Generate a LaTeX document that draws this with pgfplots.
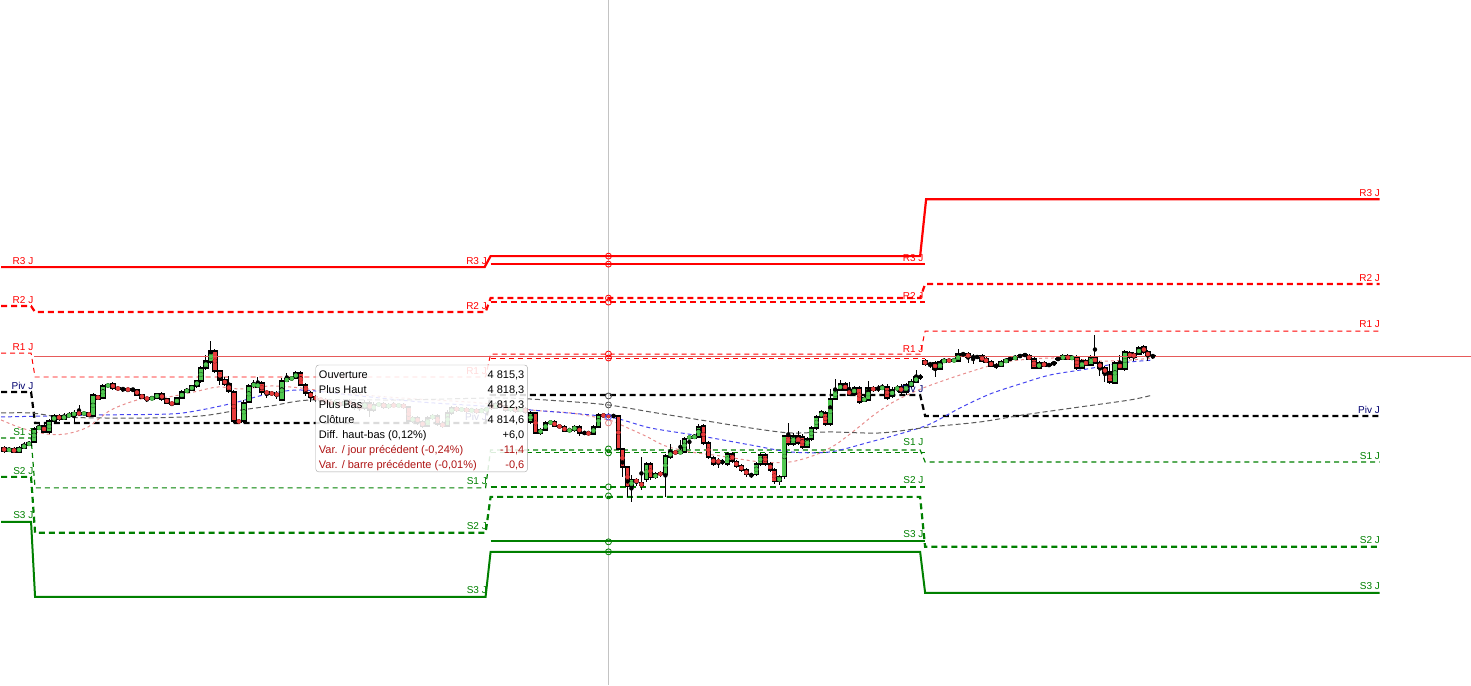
\documentclass[border=0pt]{standalone}
\usepackage{fontspec}
\setmainfont{Liberation Sans}
\usepackage{pgfplots}
\usepackage{pgfplotstable}
\pgfplotsset{compat=1.18}
\definecolor{cgreen}{RGB}{80,200,80}
\definecolor{cred}{RGB}{232,60,60}
\definecolor{pr}{RGB}{255,0,0}
\definecolor{pg}{RGB}{0,128,0}
\definecolor{pivc}{RGB}{0,0,0}
\definecolor{pivtxt}{RGB}{0,0,110}
\definecolor{mapink}{RGB}{232,140,140}
\definecolor{mablue}{RGB}{70,70,240}
\definecolor{magray}{RGB}{90,90,90}
\definecolor{txtred}{RGB}{175,20,20}
\definecolor{pline}{RGB}{230,90,90}
\definecolor{cross}{RGB}{195,195,195}
\tikzset{lab/.style={anchor=south east, inner sep=0.6pt, font=\fontsize{10}{12}\selectfont},
         tt/.style={anchor=base west, inner sep=0pt, font=\fontsize{11}{13}\selectfont},
         tv/.style={anchor=base east, inner sep=0pt, font=\fontsize{11}{13}\selectfont}}

% candles: x (pixel), open, high, low, close (pixel rows, smaller = higher price)
\pgfplotstableread{
x o h l c
3 448 446 453 451
8 451 447 452 449
13 449 447 453 452
18 452 446 453 448
23 448 442 449 445
28 445 441 446 443
33 442 427 443 429
38 429 424 430 427
43 426 423 433 432
48 432 419 434 421
53 421 414 422 416
58 416 414 421 419
63 419 413 420 416
68 416 412 418 415
73 415 410 422 413
78 413 405 416 414
83 414 411 416 413
88 413 412 417 416
92 416 393 417 395
97 396 395 400 399
102 398 384 399 386
107 386 383 388 385
112 384 382 390 388
117 388 386 391 389
122 389 387 392 389
127 389 388 392 390
132 390 388 391 390
136 390 389 396 395
141 395 394 399 398
146 398 397 402 399
151 399 396 400 398
156 398 393 399 394
161 394 392 401 399
166 399 398 404 403
171 403 402 406 404
176 404 397 405 398
181 398 390 399 392
186 392 388 393 390
191 390 385 391 386
196 386 380 388 381
200 381 366 383 368
205 368 355 370 361
210 362 341 364 351
214 351 349 373 371
219 371 370 385 380
224 380 377 386 384
228 384 376 393 391
233 392 390 423 421
238 421 419 424 422
243 421 400 423 403
248 402 384 403 386
253 386 380 388 384
257 387 377 388 384
261 383 381 395 392
266 392 390 398 393
271 393 391 396 394
276 394 391 399 395
281 400 378 401 381
286 381 373 382 379
291 379 376 381 378
295 378 371 379 373
300 373 371 386 385
305 385 383 396 393
310 393 391 402 397
315 397 395 402 399
320 399 397 404 400
325 400 398 405 402
330 402 400 406 404
334 404 400 406 403
339 403 401 408 405
344 405 400 407 402
349 402 399 406 404
354 404 402 410 406
359 406 404 411 408
364 408 400 410 403
369 403 401 417 410
373 410 402 412 405
378 405 402 407 404
383 404 402 409 407
388 407 403 409 405
393 405 402 408 406
398 406 403 408 405
403 405 403 409 407
408 407 406 423 421
412 421 416 423 418
417 418 416 425 422
422 422 420 428 426
427 426 416 427 418
432 418 414 420 416
437 416 414 426 424
442 424 421 428 426
447 426 410 427 413
451 413 406 415 408
456 408 406 412 410
461 410 407 412 409
466 409 407 413 411
471 411 408 412 410
476 410 408 414 412
481 412 408 413 410
486 410 407 411 409
491 405 402 410 408
495 408 402 409 404
500 404 402 408 406
505 406 404 412 410
510 410 406 412 408
515 408 406 413 411
520 411 407 412 409
525 409 407 414 412
530 422 411 424 413
535 413 412 434 433
540 433 428 435 430
545 430 421 431 423
550 423 420 425 422
554 422 420 427 426
559 426 424 429 427
564 427 425 432 431
569 431 428 432 430
574 430 425 432 427
579 427 425 436 433
584 433 431 435 433
588 433 431 435 434
593 434 425 435 427
598 427 413 428 415
603 415 413 418 416
608 415.5 413.5 418.5 416.5
613 416 414 418 416
618 416 415 450 449
622 449 448 477 467
627 467 466 497 487
631 487 475 502 480
636 480 478 486 482
641 483 457 490 486
646 480 462 482 464
650 464 462 480 478
655 478 472 479 474
660 473 471 477 475
665 475 454 497 456
670 457 444 459 452
675 452 450 455 453
680 453 440 454 452
684 452 437 453 439
689 438 435 449 437
694 438 434 439 436
698 437 424 438 427
703 426 424 445 443
708 443 441 459 457
713 458 456 466 464
718 461 458 468 462
722 462 459 465 462
727 464 452 466 454
732 454 452 463 461
736 462 460 468 466
741 466 464 472 470
746 470 468 477 475
751 475 473 478 475
756 475 462 476 464
760 464 453 466 455
765 455 453 466 464
770 464 462 472 470
774 470 468 484 482
779 482 475 485 477
784 477 435 479 436
788 436 423 446 444
793 444 433 446 436
798 436 431 445 443
802 437 434 449 447
807 447 437 448 439
811 439 426 441 428
816 428 415 430 417
821 417 410 418 412
825 413 411 426 424
830 424 389 426 399
835 399 379 400 390
840 390 380 391 384
845 384 382 391 390
849 390 382 396 395
854 394 386 396 388
859 388 386 404 402
864 401 396 402 398
868 400 381 401 388
873 388 386 392 390
878 389 385 392 389
882 389 384 390 387
887 387 384 400 398
892 396 387 398 390
897 389 385 392 388
901 387 384 394 392
906 392 383 395 385
911 386 379 388 382
916 382 370 383 377
920 377 374 380 377
925 361 359 366 364
930 364 362 368 364
935 363 361 377 369
940 369 360 370 362
944 362 358 363 360
949 360 358 363 361
954 361 358 362 360
958 361 349 362 354
963 354 352 357 354
968 354 352 363 357
973 357 354 364 357
977 357 355 359 357
982 356 354 362 361
986 359 357 363 362
991 362 360 367 366
996 366 363 369 366
1001 366 360 367 362
1006 362 358 363 360
1010 359 357 361 359
1015 359 355 360 357
1020 356 354 358 356
1025 355 353 357 355
1029 356 354 360 359
1034 359 357 369 368
1039 368 361 369 363
1044 363 361 367 366
1049 365 363 367 365
1054 363 361 366 363
1058 359 357 361 359
1063 359 354 360 356
1068 356 354 360 359
1072 359 355 360 357
1077 357 355 370 368
1082 368 359 369 361
1086 361 359 366 365
1091 365 355 366 357
1095 357 335 364 363
1100 363 361 376 368
1105 368 366 382 373
1110 372 364 384 382
1115 383 361 384 363
1120 363 355 370 369
1125 369 350 371 352
1130 353 351 359 357
1134 354 352 361 357
1139 354 346 355 348
1144 347 345 354 352
1148 352 350 361 356
1153 356 354 359 356
}\candles

\begin{document}
\begin{tikzpicture}
\begin{axis}[width=1471pt,height=685pt,scale only axis,set layers,
  xmin=0,xmax=1471,ymin=0,ymax=685,y dir=reverse,hide axis,clip=false]
\path (axis cs:0,0) rectangle (axis cs:1471,685);
% crosshair
\addplot[cross, line width=0.8pt] coordinates {(608,0) (608,685)};

% ---- pivot lines ----
% R3
\addplot[pr, line width=2.2pt] coordinates {(0,267) (484,267) (490,256) (920,256) (926,199) (1380,199)};
\addplot[pr, line width=2.5pt] coordinates {(490,264) (925,264)};
% R2
\addplot[pr, line width=2.2pt, dash pattern=on 6pt off 4pt] coordinates {(0,306) (30,306) (34,312) (485,312) (490,298) (920,298) (925,284) (1380,284)};
\addplot[pr, line width=2.5pt, dash pattern=on 6pt off 4pt] coordinates {(490,302) (925,302)};
% R1
\addplot[pr, line width=1pt, dash pattern=on 5pt off 4pt] coordinates {(0,353) (30,353) (34,377) (485,377) (490,354) (920,354) (925,331) (1380,331)};
\addplot[pr, line width=1pt, dash pattern=on 5pt off 4pt] coordinates {(490,358) (925,358)};
% Pivot
\addplot[pivc, line width=2.2pt, dash pattern=on 6pt off 4pt] coordinates {(0,392) (30,392) (34,423) (485,423) (490,395) (920,395) (925,416) (1380,416)};
% S1
\addplot[pg, line width=1.2pt, dash pattern=on 5pt off 4pt] coordinates {(0,438) (30,438) (34,488) (485,488) (490,450) (920,450) (925,462) (1380,462)};
\addplot[pg, line width=1pt, dash pattern=on 5pt off 4pt] coordinates {(490,453) (925,453)};
% S2
\addplot[pg, line width=2.2pt, dash pattern=on 6pt off 4pt] coordinates {(0,477) (30,477) (34,533) (485,533) (490,497) (920,497) (925,547) (1380,547)};
\addplot[pg, line width=2.5pt, dash pattern=on 6pt off 4pt] coordinates {(490,487) (925,487)};
% S3
\addplot[pg, line width=2pt] coordinates {(0,522) (30,522) (34,597) (485,597) (490,552) (920,552) (925,593) (1380,593)};
\addplot[pg, line width=2.5pt] coordinates {(490,541) (925,541)};

% ---- moving averages ----
\addplot[mapink, line width=1pt, dash pattern=on 3pt off 3pt, smooth] coordinates {(0,420) (20,428) (45,434) (65,434) (87,427) (110,410) (140,399) (167,397) (193,392) (217,387) (240,389) (270,386) (300,388) (330,392) (400,398) (480,403) (530,410) (570,413) (608,420) (625,427) (645,436) (665,446) (690,452) (720,456) (760,462) (790,462) (815,455) (835,445) (855,430) (875,414) (895,401) (923,388) (963,374) (1000,363) (1030,359) (1063,358) (1100,361) (1130,360) (1153,358)};
\addplot[mablue, line width=1pt, dash pattern=on 4pt off 3pt, smooth] coordinates {(0,417) (100,415) (170,414) (200,410) (233,403) (267,394) (300,390) (350,395) (420,402) (480,406) (530,410) (608,417) (650,428) (700,436) (750,445) (790,452) (830,452) (870,442) (903,433) (930,424) (960,408) (990,394) (1020,384) (1050,375) (1087,369) (1120,363) (1153,360)};
\addplot[magray, line width=1pt, dash pattern=on 5pt off 3pt, smooth] coordinates {(0,413) (30,413) (60,417) (100,418) (150,418) (200,416) (233,411) (270,406) (310,400) (400,400) (500,398) (560,401) (608,405) (650,412) (700,420) (750,428) (790,433) (830,432) (880,433) (930,427) (980,422) (1023,415) (1080,407) (1130,400) (1153,395)};

% ---- candles ----
\addplot[only marks, mark=none, black, error bars/.cd, y dir=both, y explicit, error mark=none,
  error bar style={line width=1pt, black}]
  table[x=x, y expr={(\thisrow{h}+\thisrow{l})/2}, y error expr={(\thisrow{l}-\thisrow{h})/2}] {\candles};
\addplot[only marks, mark=none, black, error bars/.cd, y dir=both, y explicit, error mark=none,
  error bar style={line width=5.4pt, black}]
  table[x=x, y expr={(\thisrow{o}+\thisrow{c})/2}, y error expr={abs(\thisrow{o}-\thisrow{c})/2+0.6}] {\candles};
\addplot[only marks, mark=none, cgreen, restrict y to domain=0:1000, error bars/.cd, y dir=both, y explicit, error mark=none,
  error bar style={line width=3.7pt, cgreen}]
  table[x=x, y expr={(\thisrow{c}<\thisrow{o}) ? ((\thisrow{o}+\thisrow{c})/2) : (-500)}, y error expr={max(abs(\thisrow{o}-\thisrow{c})/2-0.6,0)}] {\candles};
\addplot[only marks, mark=none, cred, restrict y to domain=0:1000, error bars/.cd, y dir=both, y explicit, error mark=none,
  error bar style={line width=3.7pt, cred}]
  table[x=x, y expr={(\thisrow{c}>\thisrow{o}) ? ((\thisrow{o}+\thisrow{c})/2) : (-500)}, y error expr={max(abs(\thisrow{o}-\thisrow{c})/2-0.6,0)}] {\candles};

% last price line
\addplot[pline, line width=0.9pt] coordinates {(33,356) (1471,356)};

% crosshair circles
\addplot[only marks, mark=o, mark size=3pt, pr, mark options={fill=white, line width=0.8pt}] coordinates {(608,256) (608,264) (608,298) (608,302) (608,354) (608,358)};
\addplot[only marks, mark=o, mark size=3pt, black!70, mark options={fill=white, line width=0.8pt}] coordinates {(608,396) (608,405)};
\addplot[only marks, mark=o, mark size=3pt, mablue, mark options={fill=white, line width=0.8pt}] coordinates {(608,417)};
\addplot[only marks, mark=o, mark size=3pt, mapink, mark options={fill=white, line width=0.8pt}] coordinates {(608,423)};
\addplot[only marks, mark=o, mark size=3pt, pg, mark options={fill=white, line width=0.8pt}] coordinates {(608,449) (608,453) (608,487) (608,496) (608,542) (608,552)};

% ---- labels ----
% day 0 (left)
\node[lab, text=pr] at (axis cs:33,265) {R3 J};
\node[lab, text=pr] at (axis cs:33,304) {R2 J};
\node[lab, text=pr] at (axis cs:33,351) {R1 J};
\node[lab, text=pivtxt] at (axis cs:33,390) {Piv J};
\node[lab, text=pg] at (axis cs:33,436) {S1 J};
\node[lab, text=pg] at (axis cs:33,475) {S2 J};
\node[lab, text=pg] at (axis cs:33,520) {S3 J};
% day 1 end
\node[lab, text=pr] at (axis cs:487,265) {R3 J};
\node[lab, text=pr] at (axis cs:487,310) {R2 J};
\node[lab, text=pr] at (axis cs:487,375) {R1 J};
\node[lab, text=pivtxt] at (axis cs:487,421) {Piv J};
\node[lab, text=pg] at (axis cs:487,486) {S1 J};
\node[lab, text=pg] at (axis cs:487,531) {S2 J};
\node[lab, text=pg] at (axis cs:487,595) {S3 J};
% day 2 end
\node[lab, text=pr] at (axis cs:924,262) {R3 J};
\node[lab, text=pr] at (axis cs:924,300) {R2 J};
\node[lab, text=pr] at (axis cs:924,353) {R1 J};
\node[lab, text=pivtxt] at (axis cs:924,393) {Piv J};
\node[lab, text=pg] at (axis cs:924,446) {S1 J};
\node[lab, text=pg] at (axis cs:924,485) {S2 J};
\node[lab, text=pg] at (axis cs:924,539) {S3 J};
% day 3 end
\node[lab, text=pr] at (axis cs:1381,197) {R3 J};
\node[lab, text=pr] at (axis cs:1381,282) {R2 J};
\node[lab, text=pr] at (axis cs:1381,328) {R1 J};
\node[lab, text=pivtxt] at (axis cs:1381,414) {Piv J};
\node[lab, text=pg] at (axis cs:1381,460) {S1 J};
\node[lab, text=pg] at (axis cs:1381,545) {S2 J};
\node[lab, text=pg] at (axis cs:1381,591) {S3 J};

% ---- tooltip (on top of everything) ----
\begin{pgfonlayer}{axis foreground}
\draw[rounded corners=3pt, draw=black!35, fill=white, fill opacity=0.86] (axis cs:315,365) rectangle (axis cs:527,472);
\node[tt] at (axis cs:318,379) {Ouverture};
\node[tt] at (axis cs:318,394) {Plus Haut};
\node[tt] at (axis cs:318,409) {Plus Bas};
\node[tt] at (axis cs:318,424) {Clôture};
\node[tt] at (axis cs:318,439) {Diff. haut-bas (0,12\%)};
\node[tt, text=txtred] at (axis cs:318,454) {Var. / jour précédent (-0,24\%)};
\node[tt, text=txtred] at (axis cs:318,469) {Var. / barre précédente (-0,01\%)};
\node[tv] at (axis cs:524,379) {4 815,3};
\node[tv] at (axis cs:524,394) {4 818,3};
\node[tv] at (axis cs:524,409) {4 812,3};
\node[tv] at (axis cs:524,424) {4 814,6};
\node[tv] at (axis cs:524,439) {+6,0};
\node[tv, text=txtred] at (axis cs:524,454) {-11,4};
\node[tv, text=txtred] at (axis cs:524,469) {-0,6};
\end{pgfonlayer}
\end{axis}
\end{tikzpicture}
\end{document}
